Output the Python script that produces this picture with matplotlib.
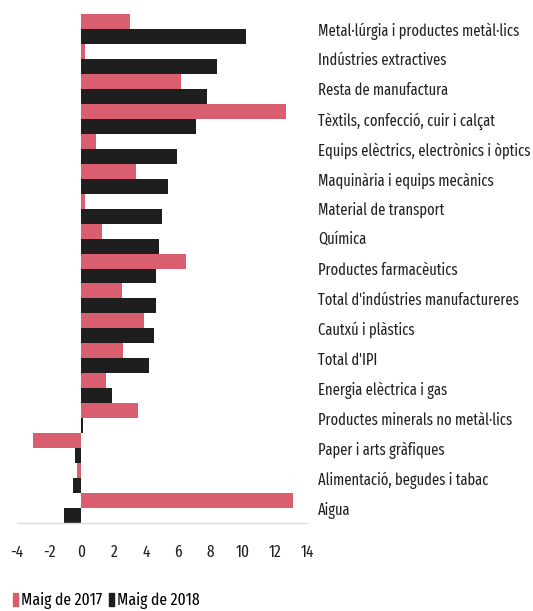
import matplotlib
matplotlib.use("Agg")
import matplotlib.pyplot as plt
from matplotlib import font_manager
from matplotlib.patches import Patch
import numpy as np

categories = [
    "Metal·lúrgia i productes metàl·lics",
    "Indústries extractives",
    "Resta de manufactura",
    "Tèxtils, confecció, cuir i calçat",
    "Equips elèctrics, electrònics i òptics",
    "Maquinària i equips mecànics",
    "Material de transport",
    "Química",
    "Productes farmacèutics",
    "Total d'indústries manufactureres",
    "Cautxú i plàstics",
    "Total d'IPI",
    "Energia elèctrica i gas",
    "Productes minerals no metàl·lics",
    "Paper i arts gràfiques",
    "Alimentació, begudes i tabac",
    "Aigua",
]
maig_2017 = [3.0, 0.2, 6.2, 12.7, 0.9, 3.4, 0.2, 1.3, 6.5, 2.5, 3.9, 2.6, 1.5, 3.5, -3.0, -0.3, 13.1]
maig_2018 = [10.2, 8.4, 7.8, 7.1, 5.9, 5.4, 5.0, 4.8, 4.6, 4.6, 4.5, 4.2, 1.9, 0.1, -0.4, -0.5, -1.1]
series_names = ["Maig de 2017", "Maig de 2018"]
xticks = [-4, -2, 0, 2, 4, 6, 8, 10, 12, 14]

# condensed font, like the original
names = {f.name for f in font_manager.fontManager.ttflist}
family = "Liberation Sans"
for cand in ["Fira Sans Extra Condensed", "Barlow Condensed", "Saira Extra Condensed",
             "Roboto Condensed", "Archivo Narrow"]:
    if cand in names:
        family = cand
        break
plt.rcParams["font.family"] = [family, "DejaVu Sans"]
plt.rcParams["axes.unicode_minus"] = False

pink = "#d95f70"
black = "#1e1e1e"

fig = plt.figure(figsize=(5.33, 6.11), dpi=100)

# size the text so the longest label is about as wide as in the picture
probe = fig.text(0, 0, categories[4], fontsize=10)
fig.canvas.draw()
w = probe.get_window_extent().width
probe.remove()
fs = min(14, 10 * 213 / w)

ax = fig.add_axes([17 / 533, 88 / 611, 290 / 533, 509 / 611])

y = np.arange(len(categories))
ax.barh(y - 0.25, maig_2017, height=0.5, color=pink)
ax.barh(y + 0.25, maig_2018, height=0.5, color=black)

ax.set_xlim(-4, 14)
ax.set_ylim(len(categories) - 0.5, -0.5)
ax.set_xticks(xticks)
ax.set_xticklabels([str(t) for t in xticks], fontsize=fs * 1.05, color="#222222")
ax.tick_params(axis="x", length=0, pad=15)

ax.yaxis.tick_right()
ax.set_yticks(y)
ax.set_yticklabels(categories, fontsize=fs, color="#222222")
ax.tick_params(axis="y", length=0, pad=8)

for s in ["top", "left", "right"]:
    ax.spines[s].set_visible(False)
ax.spines["bottom"].set_color("#dddddd")
ax.spines["bottom"].set_linewidth(1)

handles = [Patch(color=pink), Patch(color=black)]
fig.legend(handles, series_names, loc="lower left", bbox_to_anchor=(0.021, 0.0),
           ncol=2, frameon=False, fontsize=fs * 1.08, handlelength=0.3, handleheight=0.75,
           handletextpad=0.15, columnspacing=0.45, borderaxespad=0, borderpad=0.1)

fig.savefig("out.png", dpi=100, facecolor="white")
